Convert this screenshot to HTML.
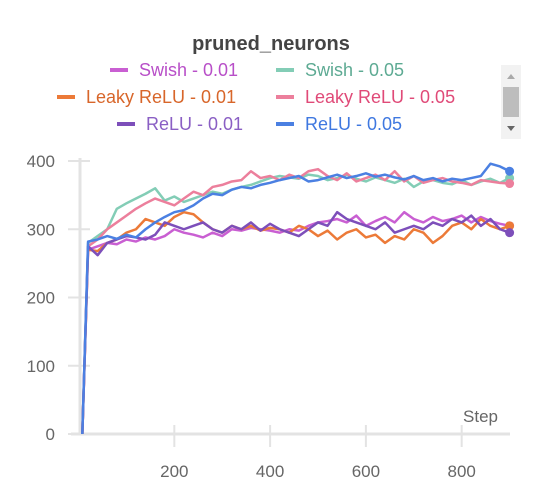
<!DOCTYPE html>
<html><head><meta charset="utf-8"><style>
body{margin:0;background:#fff;width:542px;height:496px;overflow:hidden;font-family:"Liberation Sans",sans-serif}
</style></head><body>
<svg width="542" height="496">
<text x="271" y="50" text-anchor="middle" font-size="20" font-weight="bold" fill="#444">pruned_neurons</text>
<g id="legend"></g>
<g>
<rect x="501" y="65" width="20" height="74" fill="#f2f2f2"/>
<rect x="503" y="87" width="16" height="30" fill="#bdbdbd"/>
<polygon points="507,79 515,79 511,74" fill="#aaa"/>
<polygon points="507,126 515,126 511,131" fill="#666"/>
</g>
<g id="axes"></g>
<g id="plot"></g>
</svg>
<script>
const steps=[8,20,40,60,80,100,120,140,160,180,200,220,240,260,280,300,320,340,360,380,400,420,440,460,480,500,520,540,560,580,600,620,640,660,680,700,720,740,760,780,800,820,840,860,880,900];
const swish01=[0,270,275,280,278,285,282,288,285,290,300,295,292,288,295,290,300,298,302,300,298,295,300,298,305,310,312,315,310,320,305,312,318,310,325,315,310,318,312,315,320,310,318,312,308,305];
const swish05=[0,280,290,300,330,338,345,352,360,342,348,340,345,350,355,352,358,362,365,370,375,378,376,374,380,378,372,375,380,374,370,376,372,368,374,362,370,372,368,366,372,365,370,374,368,375];
const leaky01=[0,270,268,280,285,295,300,315,310,305,318,325,322,310,300,295,305,300,305,298,302,300,295,305,300,290,298,285,295,300,288,292,280,290,285,300,295,280,290,305,310,300,315,305,300,305];
const leaky05=[0,275,285,300,310,320,330,338,345,340,335,345,355,350,362,365,370,372,385,375,378,372,380,375,385,388,378,372,382,370,375,380,372,385,370,378,368,372,375,370,368,365,372,370,368,367];
const relu01=[0,275,262,280,285,290,288,285,292,310,305,300,305,310,300,295,305,300,310,298,308,300,295,290,300,310,305,325,315,310,305,300,310,295,300,305,300,310,305,315,310,320,305,315,300,295];
const relu05=[0,282,285,290,286,292,288,300,310,318,325,328,335,345,352,350,358,362,360,365,368,372,375,378,370,372,376,380,375,378,382,377,380,376,373,378,372,375,370,374,372,375,378,396,392,385];
const yTicks=[0,100,200,300,400];
const xTicks=[200,400,600,800];
const NS="http://www.w3.org/2000/svg";
const X=s=>78.5+0.479*s, Y=v=>434-0.6825*v;
function mk(t,a,p){const e=document.createElementNS(NS,t);for(const k in a)e.setAttribute(k,a[k]);p.appendChild(e);return e;}
const axes=document.getElementById('axes'),plot=document.getElementById('plot'),leg=document.getElementById('legend');
const ax=mk('line',{x1:71,x2:510,y1:434,y2:434,stroke:'#e3e3e3','stroke-width':3},axes);

const ay=mk('line',{x1:80,x2:80,y1:158,y2:434,stroke:'#e3e3e3','stroke-width':3},axes);

yTicks.forEach(v=>{
 const l=mk('line',{x1:68,x2:90,y1:Y(v),y2:Y(v),stroke:'#e3e3e3','stroke-width':2},axes);
 
 const t=mk('text',{x:55,y:Y(v)+6,'text-anchor':'end','font-size':17,fill:'#666'},axes);t.textContent=v;
 
});
xTicks.forEach(s=>{
 const l=mk('line',{x1:X(s),x2:X(s),y1:425,y2:447,stroke:'#e3e3e3','stroke-width':2},axes);
 
 const t=mk('text',{x:X(s),y:477,'text-anchor':'middle','font-size':17,fill:'#666'},axes);t.textContent=s;
 
});
const st=mk('text',{x:498,y:422,'text-anchor':'end','font-size':17,fill:'#666'},axes);st.textContent='Step';

const series=[
 {n:'Swish - 0.01',d:swish01,c:'#c95fd2',tc:'#b84fc8',lx:110,ly:76,id:'swish-001'},
 {n:'Swish - 0.05',d:swish05,c:'#83cdb6',tc:'#5daa93',lx:276,ly:76,id:'swish-005'},
 {n:'Leaky ReLU - 0.01',d:leaky01,c:'#ec7a38',tc:'#d8662a',lx:57,ly:103,id:'leaky-relu-001'},
 {n:'Leaky ReLU - 0.05',d:leaky05,c:'#ec7f9c',tc:'#e04a78',lx:276,ly:103,id:'leaky-relu-005'},
 {n:'ReLU - 0.01',d:relu01,c:'#7d4fba',tc:'#8a5fc4',lx:117,ly:130,id:'relu-001'},
 {n:'ReLU - 0.05',d:relu05,c:'#4b80e2',tc:'#3f78e0',lx:276,ly:130,id:'relu-005'}];
series.forEach(s=>{
 const g=mk('g',{},leg);
 
 mk('line',{x1:s.lx,x2:s.lx+18,y1:s.ly-6,y2:s.ly-6,stroke:s.c,'stroke-width':4},g);
 const t=mk('text',{x:s.lx+29,y:s.ly,'font-size':18,fill:s.tc},g);t.textContent=s.n;
 const p=mk('polyline',{points:s.d.map((v,i)=>X(steps[i])+','+Y(v)).join(' '),fill:'none',stroke:s.c,'stroke-width':2.5,'stroke-linejoin':'round'},plot);
 
 const k=s.d.length-1;
 const c=mk('circle',{cx:X(steps[k]),cy:Y(s.d[k]),r:4.5,fill:s.c},plot);
 
});
</script>
</body></html>
